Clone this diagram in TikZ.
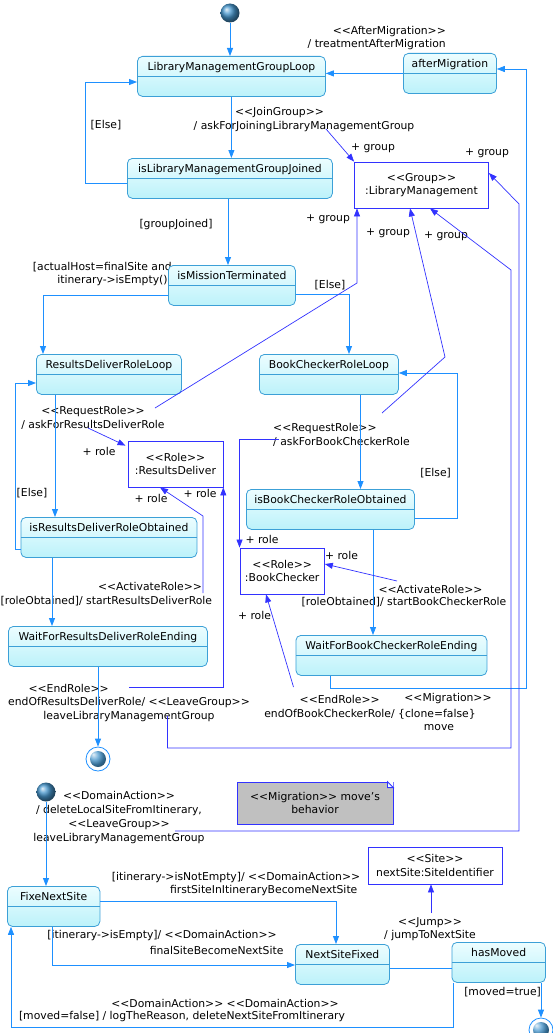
\documentclass[tikz,border=0pt]{standalone}
\usepackage{fontspec}
\setmainfont{DejaVu Sans}
\usepackage{xcolor}
\usetikzlibrary{arrows.meta}

\definecolor{statetop}{RGB}{236,253,255}
\definecolor{statebot}{RGB}{188,242,250}
\definecolor{stateline}{RGB}{60,160,215}
\definecolor{transblue}{RGB}{30,144,255}
\definecolor{assocblue}{RGB}{50,50,255}
\definecolor{notegray}{RGB}{192,192,192}
\definecolor{dotblue}{RGB}{70,150,205}

\newcommand{\stereo}[1]{<\kern0pt<#1>\kern0pt>}

\begin{document}
\begin{tikzpicture}[x=1pt, y=-1pt,
  every node/.style={font=\fontsize{10.8}{13.5}\selectfont, inner sep=0pt},
  state/.style={rectangle, rounded corners=5pt, draw=stateline, line width=0.8pt,
    top color=statetop, bottom color=statebot, anchor=north west,
    minimum height=40pt, text height=14pt, text depth=26pt,
    path picture={\draw[stateline, line width=0.8pt]
      ([yshift=-20pt]path picture bounding box.north west) --
      ([yshift=-20pt]path picture bounding box.north east);}},
  obj/.style={rectangle, draw=assocblue, line width=0.8pt, fill=white, align=center},
  lbl/.style={align=center},
  trans/.style={draw=transblue, line width=0.8pt, -{Triangle[length=8pt, width=6pt]}},
  transline/.style={draw=transblue, line width=0.8pt},
  assoc/.style={draw=assocblue, line width=0.7pt, -{Triangle[length=8pt, width=6pt]}},
  initial/.style={circle, minimum size=19pt, shading=ball, ball color=dotblue},
  final/.style={circle, minimum size=24pt, draw=transblue, line width=0.8pt, fill=white,
    path picture={\shade[ball color=dotblue] (path picture bounding box.center) circle (8pt);}}
]
  \useasboundingbox (0,0) rectangle (553,1033);

  % Group part
  \node[initial] (init1) at (230,13) {};
  \node[state, minimum width=188pt] (LMGL) at (137,56) {LibraryManagementGroupLoop};
  \node[state, minimum width=93pt] (afterMig) at (403,53) {afterMigration};
  \node[state, minimum width=205pt] (isLMGJ) at (127,158) {isLibraryManagementGroupJoined};
  \node[obj, minimum width=134pt, minimum height=46pt] (Group) at (421.5,185) {\stereo{Group}\\:LibraryManagement};
  \node[lbl, align=right, anchor=east] (hostLbl) at (172,274) {[actualHost=finalSite and\\itinerary->isEmpty()]};
  \node[state, minimum width=127pt] (isMT) at (168,265) {isMissionTerminated};

  \node[lbl, align=right, anchor=east] (amLbl) at (446,38) {\stereo{AfterMigration}\\/ treatmentAfterMigration};
  \node (jgLbl) at (279.5,113) {\stereo{JoinGroup}};
  \node (jgAct) at (304,127) {/ askForJoiningLibraryManagementGroup};
  \node (else1) at (106,125) {[Else]};
  \node (gjLbl) at (176,225) {[groupJoined]};
  \node (else2) at (330,285) {[Else]};
  \node (grp1) at (373,148) {+ group};
  \node (grp2) at (487,153) {+ group};
  \node (grp3) at (328,219) {+ group};
  \node (grp4) at (388,233) {+ group};
  \node (grp5) at (446,236) {+ group};

  % Role part
  \node[state, minimum width=145pt] (RDRL) at (36,354) {ResultsDeliverRoleLoop};
  \node[state, minimum width=139pt] (BCRL) at (259,354) {BookCheckerRoleLoop};
  \node[state, minimum width=176pt] (isRDRO) at (20.5,517) {isResultsDeliverRoleObtained};
  \node[state, minimum width=168pt] (isBCRO) at (246,489) {isBookCheckerRoleObtained};
  \node[state, minimum width=199pt] (WRDRE) at (8,626) {WaitForResultsDeliverRoleEnding};
  \node[state, minimum width=191pt] (WBCRE) at (295.5,635) {WaitForBookCheckerRoleEnding};
  \node[obj, minimum width=95pt, minimum height=46pt] (RD) at (175.4,464) {\stereo{Role}\\:ResultsDeliver};
  \node[obj, minimum width=84.5pt, minimum height=46pt] (BC) at (282.2,571) {\stereo{Role}\\:BookChecker};
  \node[final] (final1) at (98,759) {};

  \node[lbl] (rrLbl) at (93,418) {\stereo{RequestRole}\\/ askForResultsDeliverRole};
  \node[lbl, align=left, anchor=west] (rbLbl) at (273,435) {\stereo{RequestRole}\\/ askForBookCheckerRole};
  \node (else3) at (32,493) {[Else]};
  \node (else4) at (435.6,473) {[Else]};
  \node (role1) at (99,451) {+ role};
  \node (role2) at (151,498) {+ role};
  \node (role3) at (200,493) {+ role};
  \node (role4) at (262,539) {+ role};
  \node (role5) at (341.5,555) {+ role};
  \node (role6) at (254.5,615) {+ role};
  \node (arLbl) at (150,586) {\stereo{ActivateRole}};
  \node[anchor=west] (arAct) at (0.5,601) {[roleObtained]/ startResultsDeliverRole};
  \node (abLbl) at (430.5,589) {\stereo{ActivateRole}};
  \node (abAct) at (404,602) {[roleObtained]/ startBookCheckerRole};
  \node (erLbl) at (68.6,688) {\stereo{EndRole}};
  \node[lbl] (erAct) at (129,709.5) {endOfResultsDeliverRole/ \stereo{LeaveGroup}\\leaveLibraryManagementGroup};
  \node (ebLbl) at (339.7,699) {\stereo{EndRole}};
  \node (ebAct) at (370,714) {endOfBookCheckerRole/ \{clone=false\}};
  \node (mgLbl) at (448,699) {\stereo{Migration}};
  \node (mgAct) at (439,728) {move};

  % Migration part
  \node[rectangle, draw=assocblue, line width=0.8pt, fill=notegray, minimum width=156pt,
    minimum height=42pt, align=center] (note) at (315,803) {\stereo{Migration} move's\\behavior};
  \fill[white] (note.north east) -- ++(-6,0) -- ++(6,6) -- cycle;
  \draw[assocblue, line width=0.8pt, fill=statetop] ([xshift=-6pt]note.north east) -- ++(0,6) -- ++(6,0) -- cycle;
  \node[initial] (init2) at (46,792) {};
  \node[lbl, font=\fontsize{10.8}{14}\selectfont] (daLbl) at (119,818) {\stereo{DomainAction}\\/ deleteLocalSiteFromItinerary,\\\stereo{LeaveGroup}\\leaveLibraryManagementGroup};
  \node[obj, minimum width=134pt, minimum height=37pt] (Site) at (435,865.5) {\stereo{Site}\\nextSite:SiteIdentifier};
  \node[state, minimum width=92.5pt] (FNS) at (7,886) {FixeNextSite};
  \node[state, minimum width=94pt] (NSF) at (295,944) {NextSiteFixed};
  \node[state, minimum width=93.5pt] (hasMoved) at (451.5,942) {hasMoved};
  \node[final] (final2) at (541,1030) {};

  \node (neLbl) at (236,878) {[itinerary->isNotEmpty]/ \stereo{DomainAction}};
  \node (neAct) at (263.7,891) {firstSiteInItineraryBecomeNextSite};
  \node[lbl] (jpLbl) at (430,929) {\stereo{Jump}\\/ jumpToNextSite};
  \node (ieLbl) at (162,936) {[itinerary->isEmpty]/ \stereo{DomainAction}};
  \node (ieAct) at (216.6,950) {finalSiteBecomeNextSite};
  \node (mtLbl) at (502.6,992) {[moved=true]};
  \node (mfLbl) at (225,1003) {\stereo{DomainAction} \stereo{DomainAction}};
  \node (mfAct) at (182,1017) {[moved=false] / logTheReason, deleteNextSiteFromItinerary};

  % transitions
  \draw[trans] (init1) -- (init1 |- LMGL.north);
  \draw[trans] (LMGL.south) -- (LMGL.south |- isLMGJ.north);
  \draw[trans] (isLMGJ.west |- 0,183) -| (85,82) -- (LMGL.west |- 0,82);
  \draw[trans] (afterMig.west) -- (afterMig.west -| LMGL.east);
  \draw[trans] (isLMGJ.south -| 228,0) -- (isMT.north -| 228,0);
  \draw[trans] (isMT.west |- 0,295) -| (RDRL.north -| 43,0);
  \draw[trans] (isMT.east |- 0,294) -| (BCRL.north -| 349,0);
  \draw[trans] (RDRL.south -| 55,0) -- (isRDRO.north -| 55,0);
  \draw[trans] (isRDRO.west |- 0,549) -| (15,383) -- (RDRL.west |- 0,383);
  \draw[trans] (isRDRO.south -| 52,0) -- (WRDRE.north -| 52,0);
  \draw[trans] (WRDRE.south -| final1) -- (final1);
  \draw[trans] (BCRL.south -| 360.5,0) -- (isBCRO.north -| 360.5,0);
  \draw[trans] (isBCRO.east |- 0,518) -| (457.5,373) -- (BCRL.east |- 0,373);
  \draw[trans] (isBCRO.south -| 373,0) -- (WBCRE.north -| 373,0);
  \draw[trans] (WBCRE.south -| 330.5,0) |- (526,688) |- (afterMig.east |- 0,69);
  \draw[trans] (init2) -- (init2 |- FNS.north);
  \draw[trans] (FNS.east |- 0,901) -| (NSF.north -| 336,0);
  \draw[trans] (FNS.south -| 52,0) |- (NSF.west |- 0,965);
  \draw[transline] (NSF.east |- 0,968) -- (hasMoved.west |- 0,968);
  \draw[trans] (hasMoved.south -| final2) -- (final2);
  \draw[trans] (hasMoved.south -| 453,0) |- (11,1027) -- (FNS.south -| 11,0);

  % associations
  \coordinate (jgEnd) at (326,129);
  \coordinate (rrEnd) at (155,408);
  \coordinate (rbEnd) at (382,413);
  \coordinate (erEnd) at (167.5,716);
  \coordinate (daEnd) at (175,831);
  \coordinate (rrRole) at (88,428);
  \coordinate (arEnd) at (203,593);
  \coordinate (erRole) at (129,687);
  \coordinate (rbRole) at (279,439);
  \coordinate (abEnd) at (397,581);
  \coordinate (ebEnd) at (293.5,687);
  \coordinate (jpEnd) at (431,913);
  \draw[assoc] (jgEnd) -- (Group.north west);
  \draw[assoc] (rrEnd) -- (357,283) -- (Group.south -| 357,0);
  \draw[assoc] (rbEnd) -- (445,357) -- (Group.south -| 410,0);
  \draw[assoc] (erEnd) |- (511,748) -- (511,270) -- (Group.south -| 430,0);
  \draw[assoc] (daEnd) -| (519,204) -- (Group.east |- 0,173);
  \draw[assoc] (rrRole) -- ([xshift=-2pt, yshift=-5pt]RD.north west);
  \draw[assoc] (arEnd) -- (203,516) -- (RD.south -| 160,0);
  \draw[assoc] (erRole) -| (RD.south east);
  \draw[assoc] (rbRole) -| (BC.north west);
  \draw[assoc] (abEnd) -- (BC.east |- 0,564);
  \draw[assoc] (ebEnd) -- (BC.south -| 266,0);
  \draw[assoc] (jpEnd) -- (jpEnd |- Site.south);
\end{tikzpicture}
\end{document}
